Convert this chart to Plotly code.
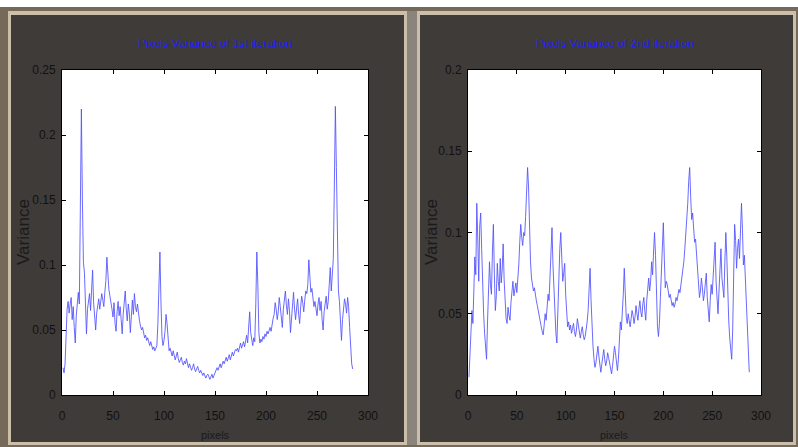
import plotly.graph_objects as go

W, H = 798, 447

# ---- data ----
left_variance = [
    0.021, 0.017, 0.024, 0.048, 0.066, 0.072, 0.063, 0.070, 0.075, 0.058,
    0.068, 0.052, 0.040, 0.061, 0.074, 0.079, 0.070, 0.130, 0.220, 0.150,
    0.102, 0.094, 0.071, 0.047, 0.066, 0.072, 0.078, 0.065, 0.082, 0.096,
    0.071, 0.058, 0.050, 0.063, 0.069, 0.074, 0.066, 0.071, 0.078, 0.073,
    0.068, 0.079, 0.088, 0.106, 0.090, 0.081, 0.076, 0.072, 0.066, 0.060,
    0.071, 0.055, 0.049, 0.064, 0.072, 0.061, 0.068, 0.058, 0.047, 0.062,
    0.075, 0.080, 0.066, 0.057, 0.070, 0.063, 0.048, 0.066, 0.073, 0.062,
    0.078, 0.068, 0.064, 0.070, 0.061, 0.057, 0.053, 0.050, 0.052, 0.047,
    0.044, 0.046, 0.042, 0.044, 0.040, 0.038, 0.041, 0.037, 0.035, 0.037,
    0.034, 0.036, 0.038, 0.055, 0.088, 0.110, 0.072, 0.045, 0.038, 0.042,
    0.049, 0.062, 0.055, 0.040, 0.034, 0.036, 0.033, 0.030, 0.034, 0.031,
    0.027, 0.030, 0.033, 0.028, 0.025, 0.027, 0.029, 0.025, 0.023, 0.026,
    0.024, 0.028, 0.023, 0.021, 0.024, 0.022, 0.019, 0.021, 0.024, 0.020,
    0.018, 0.020, 0.022, 0.019, 0.017, 0.019, 0.016, 0.015, 0.017, 0.014,
    0.013, 0.015, 0.016, 0.014, 0.012, 0.014, 0.016, 0.013, 0.015, 0.017,
    0.019, 0.021, 0.019, 0.022, 0.024, 0.021, 0.023, 0.026, 0.024, 0.027,
    0.029, 0.026, 0.028, 0.031, 0.027, 0.030, 0.033, 0.030, 0.032, 0.035,
    0.034, 0.036, 0.033, 0.037, 0.040, 0.036, 0.038, 0.041, 0.037, 0.043,
    0.046, 0.040, 0.052, 0.064, 0.048, 0.042, 0.038, 0.044, 0.041, 0.070,
    0.110, 0.085, 0.048, 0.040, 0.043, 0.041, 0.045, 0.043, 0.047, 0.045,
    0.049, 0.047, 0.050, 0.052, 0.049, 0.055, 0.059, 0.062, 0.071, 0.066,
    0.058, 0.064, 0.075, 0.068, 0.060, 0.052, 0.066, 0.072, 0.080, 0.069,
    0.062, 0.074, 0.065, 0.048, 0.060, 0.071, 0.079, 0.066, 0.058, 0.067,
    0.074, 0.062, 0.055, 0.068, 0.076, 0.071, 0.064, 0.073, 0.080, 0.078,
    0.085, 0.104, 0.092, 0.079, 0.082, 0.074, 0.068, 0.072, 0.066, 0.061,
    0.070, 0.075, 0.065, 0.072, 0.058, 0.050, 0.064, 0.070, 0.076, 0.066,
    0.072, 0.085, 0.098, 0.080, 0.092, 0.105, 0.160, 0.222, 0.175, 0.110,
    0.080, 0.072, 0.060, 0.042, 0.058, 0.068, 0.074, 0.070, 0.063, 0.075,
    0.068, 0.052, 0.036, 0.024, 0.020,
]

right_variance = [
    0.011, 0.022, 0.036, 0.052, 0.044, 0.063, 0.085, 0.074, 0.118, 0.096,
    0.070, 0.104, 0.112, 0.090, 0.066, 0.050, 0.038, 0.030, 0.022, 0.045,
    0.060, 0.082, 0.068, 0.062, 0.088, 0.105, 0.074, 0.052, 0.061, 0.081,
    0.070, 0.064, 0.084, 0.069, 0.077, 0.093, 0.071, 0.058, 0.047, 0.044,
    0.054, 0.049, 0.046, 0.057, 0.066, 0.070, 0.061, 0.064, 0.069, 0.063,
    0.071, 0.080, 0.094, 0.105, 0.097, 0.092, 0.100, 0.098, 0.110, 0.122,
    0.140, 0.128, 0.100, 0.082, 0.072, 0.067, 0.064, 0.066, 0.061, 0.058,
    0.055, 0.051, 0.048, 0.045, 0.042, 0.039, 0.037, 0.043, 0.050, 0.046,
    0.055, 0.062, 0.058, 0.075, 0.092, 0.103, 0.080, 0.062, 0.048, 0.038,
    0.032, 0.055, 0.078, 0.090, 0.100, 0.086, 0.070, 0.075, 0.081, 0.062,
    0.048, 0.042, 0.045, 0.040, 0.043, 0.038, 0.041, 0.044, 0.039, 0.036,
    0.040, 0.047, 0.043, 0.038, 0.035, 0.039, 0.042, 0.037, 0.034, 0.036,
    0.040, 0.045, 0.052, 0.065, 0.078, 0.058, 0.040, 0.030, 0.022, 0.017,
    0.020, 0.026, 0.030, 0.024, 0.018, 0.014, 0.019, 0.025, 0.028, 0.022,
    0.018, 0.021, 0.026, 0.023, 0.019, 0.016, 0.013, 0.018, 0.024, 0.030,
    0.026, 0.020, 0.015, 0.022, 0.034, 0.045, 0.040, 0.048, 0.062, 0.078,
    0.060, 0.048, 0.044, 0.050, 0.046, 0.042, 0.047, 0.052, 0.049, 0.044,
    0.048, 0.055, 0.050, 0.046, 0.053, 0.058, 0.051, 0.048, 0.056, 0.060,
    0.052, 0.046, 0.058, 0.066, 0.072, 0.064, 0.070, 0.082, 0.074, 0.088,
    0.100, 0.086, 0.058, 0.042, 0.036, 0.044, 0.060, 0.078, 0.094, 0.106,
    0.084, 0.066, 0.070, 0.068, 0.064, 0.060, 0.062, 0.058, 0.055, 0.057,
    0.054, 0.056, 0.060, 0.058, 0.062, 0.065, 0.063, 0.068, 0.072, 0.076,
    0.082, 0.090, 0.098, 0.104, 0.118, 0.132, 0.140, 0.122, 0.108, 0.112,
    0.100, 0.094, 0.096, 0.088, 0.078, 0.066, 0.060, 0.064, 0.072, 0.066,
    0.058, 0.062, 0.070, 0.075, 0.060, 0.050, 0.045, 0.058, 0.068, 0.062,
    0.074, 0.085, 0.094, 0.070, 0.058, 0.050, 0.064, 0.078, 0.090, 0.072,
    0.063, 0.060, 0.082, 0.100, 0.085, 0.060, 0.045, 0.035, 0.028, 0.022,
    0.040, 0.068, 0.105, 0.095, 0.078, 0.090, 0.096, 0.084, 0.100, 0.118,
    0.102, 0.080, 0.086, 0.070, 0.052, 0.040, 0.022, 0.014,
]

left_x = list(range(1, len(left_variance) + 1))
right_x = list(range(1, len(right_variance) + 1))

titles = ["Pixels Variance of 1st iteration", "Pixels Variance of 2nd iteration"]
x_ticks = [0, 50, 100, 150, 200, 250, 300]
left_y_ticks = [0, 0.05, 0.1, 0.15, 0.2, 0.25]
left_y_labels = ["0", "0.05", "0.1", "0.15", "0.2", "0.25"]
right_y_ticks = [0, 0.05, 0.1, 0.15, 0.2]
right_y_labels = ["0", "0.05", "0.1", "0.15", "0.2"]
x_title = "pixels"
y_title = "Variance"

# ---- helpers for pixel layout ----
def px(x):
    return x / W

def py(y):
    return 1 - y / H

FONT = "Liberation Sans, Arial"
line_color = "rgba(80,80,255,0.85)"
tick_font = dict(family=FONT, size=12, color="#111111")

fig = go.Figure()
fig.add_trace(go.Scatter(x=left_x, y=left_variance, mode="lines",
                         line=dict(color=line_color, width=1), xaxis="x", yaxis="y",
                         showlegend=False, hoverinfo="skip"))
fig.add_trace(go.Scatter(x=right_x, y=right_variance, mode="lines",
                         line=dict(color=line_color, width=1), xaxis="x2", yaxis="y2",
                         showlegend=False, hoverinfo="skip"))

L_x0, L_x1 = 62, 368
R_x0, R_x1 = 468, 761
P_y0, P_y1 = 70, 395

axis_common = dict(showgrid=False, zeroline=False, showline=True, linecolor="black",
                   linewidth=1, mirror="ticks", ticks="inside", ticklen=4,
                   tickcolor="black", tickfont=tick_font, fixedrange=True,
                   automargin=False)

layout = dict(
    width=W, height=H,
    margin=dict(l=0, r=0, t=0, b=0, pad=0),
    paper_bgcolor="white",
    plot_bgcolor="white",
    xaxis=dict(domain=[px(L_x0), px(L_x1)], range=[0, 300], tickvals=x_ticks,
               anchor="y", ticklabelstandoff=10, **axis_common),
    yaxis=dict(domain=[py(P_y1), py(P_y0)], range=[0, 0.25], tickvals=left_y_ticks,
               ticktext=left_y_labels, anchor="x", ticklabelstandoff=3, **axis_common),
    xaxis2=dict(domain=[px(R_x0), px(R_x1)], range=[0, 300], tickvals=x_ticks,
                anchor="y2", ticklabelstandoff=10, **axis_common),
    yaxis2=dict(domain=[py(P_y1), py(P_y0)], range=[0, 0.2], tickvals=right_y_ticks,
                ticktext=right_y_labels, anchor="x2", ticklabelstandoff=3, **axis_common),
)
fig.update_layout(**layout)

# ---- panel frames ----
shapes = []
def rect(x0, y0, x1, y1, fill, line=None, lw=0):
    shapes.append(dict(type="rect", xref="paper", yref="paper",
                       x0=px(x0), x1=px(x1), y0=py(y1), y1=py(y0),
                       fillcolor=fill, line=dict(color=line or fill, width=lw),
                       layer="below"))

rect(0, 7, W, H, "#75695a")
rect(8, 11, 407, H - 2, "#cbbfa9")
rect(417, 11, W - 2, H - 2, "#cbbfa9")
rect(11, 15, 404, H - 5, "#3f3b39")
rect(420, 15, W - 5, H - 5, "#3f3b39")
rect(407, 11, 417, H - 2, "#8a847c")
rect(L_x0, P_y0, L_x1, P_y1, "white")
rect(R_x0, P_y0, R_x1, P_y1, "white")
fig.update_layout(shapes=shapes)

# ---- texts ----
ann = []
for cx, t in [((L_x0 + L_x1) / 2, titles[0]), ((R_x0 + R_x1) / 2, titles[1])]:
    ann.append(dict(x=px(cx), y=py(43), xref="paper", yref="paper", text=t,
                    showarrow=False, xanchor="center", yanchor="middle",
                    font=dict(family=FONT, size=11.5, color="#2020ff")))
for cx in [(L_x0 + L_x1) / 2, (R_x0 + R_x1) / 2]:
    ann.append(dict(x=px(cx), y=py(435), xref="paper", yref="paper", text=x_title,
                    showarrow=False, xanchor="center", yanchor="middle",
                    font=dict(family=FONT, size=11, color="#1a1a1a")))
for xx in [24, 432]:
    ann.append(dict(x=px(xx), y=py(232), xref="paper", yref="paper", text=y_title,
                    showarrow=False, textangle=-90, xanchor="center", yanchor="middle",
                    font=dict(family=FONT, size=17, color="#1a1a1a")))
fig.update_layout(annotations=ann)

fig.write_html("out.html", config={"displayModeBar": False, "staticPlot": True})

# remove the default page margin so the figure sits at the window's top-left corner
with open("out.html", "r", encoding="utf-8") as f:
    html = f.read()
html = html.replace("<head>", "<head><style>html,body{margin:0;padding:0;overflow:hidden;}</style>", 1)
with open("out.html", "w", encoding="utf-8") as f:
    f.write(html)
